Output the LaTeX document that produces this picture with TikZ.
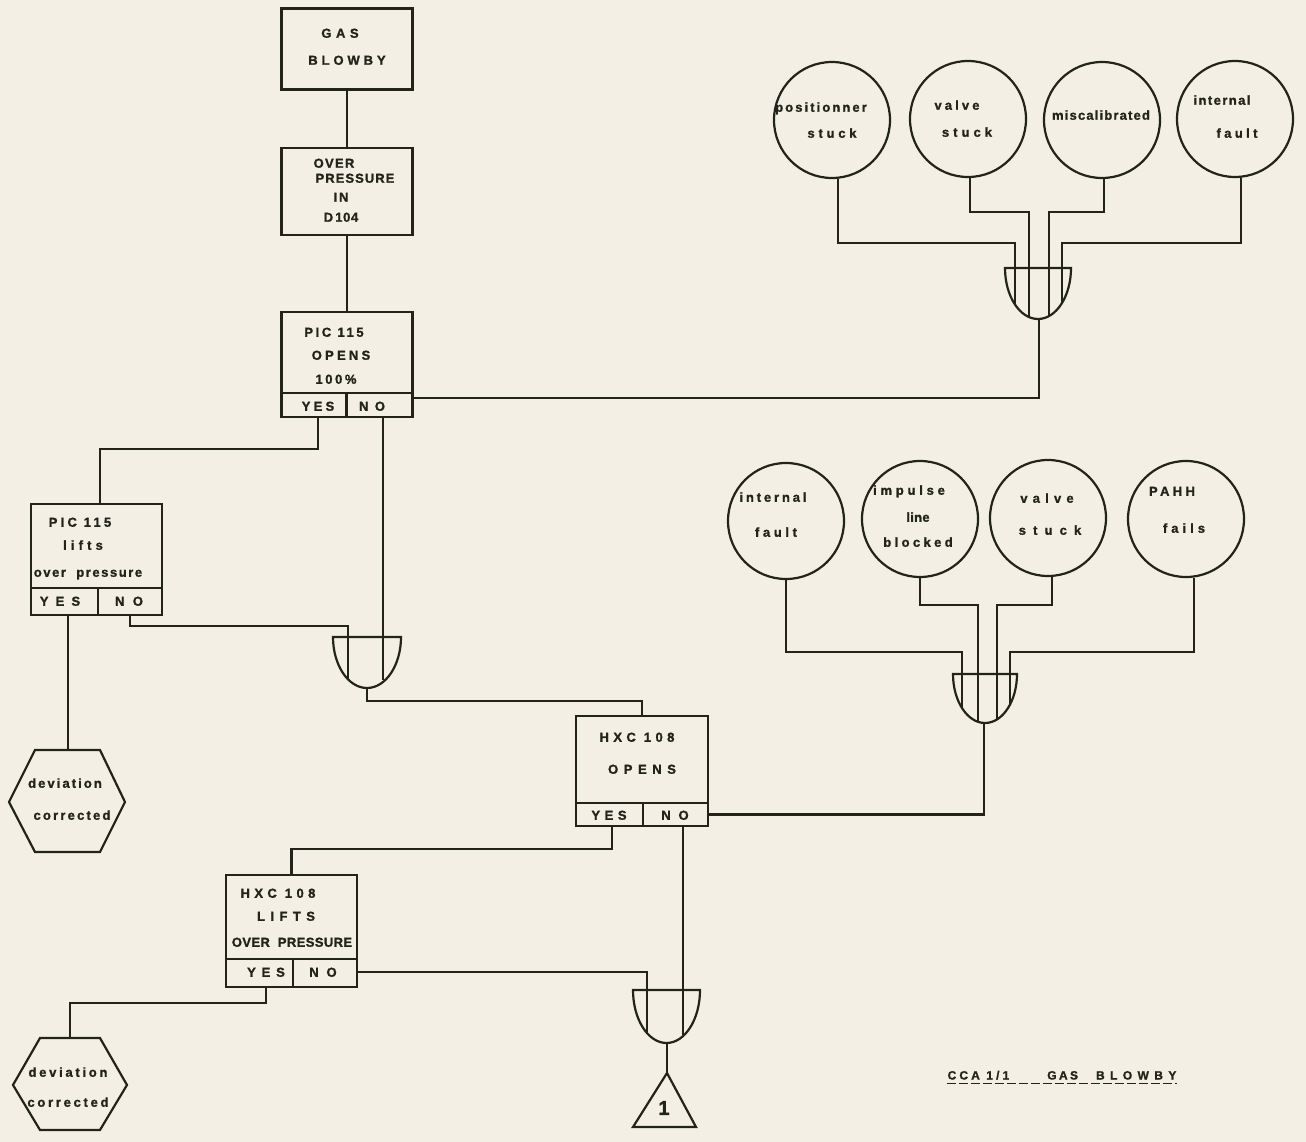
\documentclass[tikz,border=0pt]{standalone}
\usepackage{fontspec}
\setmainfont{Liberation Sans}[BoldFeatures={FakeBold=1.3}]
\usetikzlibrary{calc}
\definecolor{paper}{RGB}{243,239,229}
\definecolor{ink}{RGB}{34,36,26}
\newcommand\LS[2]{{\addfontfeature{LetterSpace=#1}#2}}
\newcommand\andgate[4]{\draw[gate] (#1-#3,#2) -- (#1+#3,#2) arc[start angle=0,end angle=-180,x radius=#3pt,y radius=#4pt] -- cycle;}
\begin{document}
\begin{tikzpicture}[x=1pt,y=-1pt,line width=2.2pt,draw=ink,text=ink,
  box/.style={draw,rectangle,inner sep=0pt},
  circ/.style={draw,circle,minimum size=116pt,inner sep=0pt},
  gate/.style={draw=ink},
  t/.style={inner sep=0pt,font=\fontsize{13}{15}\selectfont\bfseries,text height=9.5pt,text depth=0pt},
  conn/.style={draw=ink}]
\fill[paper] (0,0) rectangle (1306,1142);
\useasboundingbox (0,0) rectangle (1306,1142);

% ---------- boxes ----------
\node[box,minimum width=131pt,minimum height=81pt] (A) at (347,49) {};
\node[box,minimum width=131pt,minimum height=87pt] (B) at (347,191.5) {};
\node[box,minimum width=131pt,minimum height=81pt] (C) at (347,352.5) {};
\node[box,minimum width=65pt,minimum height=24pt] (Cyes) at (314,405) {};
\node[box,minimum width=66pt,minimum height=24pt] (Cno) at (379.5,405) {};
\node[box,minimum width=131pt,minimum height=84pt] (D) at (96.5,546) {};
\node[box,minimum width=67pt,minimum height=27pt] (Dyes) at (64.5,601.5) {};
\node[box,minimum width=64pt,minimum height=27pt] (Dno) at (130,601.5) {};
\node[box,minimum width=132pt,minimum height=87pt] (E) at (642,759.5) {};
\node[box,minimum width=67pt,minimum height=23pt] (Eyes) at (609.5,814.5) {};
\node[box,minimum width=65pt,minimum height=23pt] (Eno) at (675.5,814.5) {};
\node[box,minimum width=131pt,minimum height=84pt] (F) at (291.5,917) {};
\node[box,minimum width=67pt,minimum height=28pt] (Fyes) at (259.5,973) {};
\node[box,minimum width=64pt,minimum height=28pt] (Fno) at (325,973) {};

% ---------- box texts ----------
\node[t] (tA1) at (340,33) {\LS{35}{GAS}};
\node[t] (tA2) at (347,60) {\LS{30}{BLOWBY}};
\node[t] (tB1) at (334,163) {\LS{10}{OVER}};
\node[t] (tB2) at (355,178) {\LS{8}{PRESSURE}};
\node[t] (tB3) at (341,197) {\LS{15}{IN}};
\node[t] (tB4) at (341,217) {\LS{5}{D\,104}};
\node[t] (tC1) at (334,332) {\LS{20}{PIC 115}};
\node[t] (tC2) at (341,355) {\LS{25}{OPENS}};
\node[t] (tC3) at (336,379) {\LS{20}{100\%}};
\node[t] (tCy) at (318,406) {\LS{25}{YES}};
\node[t] (tCn) at (372,406) {\LS{50}{NO}};
\node[t] (tD1) at (80,522) {\LS{25}{PIC 115}};
\node[t] (tD2) at (83,545) {\LS{32}{lifts}};
\node[t] (tD3) at (88,572) {\LS{12}{over\ \ pressure}};
\node[t] (tDy) at (60,601) {\LS{55}{YES}};
\node[t] (tDn) at (129,601) {\LS{65}{NO}};
\node[t] (tE1) at (637,737) {\LS{34}{HXC 108}};
\node[t] (tE2) at (642,769) {\LS{43}{OPENS}};
\node[t] (tEy) at (609,815) {\LS{35}{YES}};
\node[t] (tEn) at (675,815) {\LS{60}{NO}};
\node[t] (tF1) at (278,893) {\LS{34}{HXC 108}};
\node[t] (tF2) at (286,916) {\LS{42}{LIFTS}};
\node[t] (tF3) at (292,942) {\LS{3}{OVER\ \ PRESSURE}};
\node[t] (tFy) at (266,972) {\LS{45}{YES}};
\node[t] (tFn) at (323,972) {\LS{60}{NO}};

% ---------- circles ----------
\node[circ] (pos1) at (832,120) {};
\node[circ] (val1) at (968,119) {};
\node[circ] (mis1) at (1102,120) {};
\node[circ] (int1) at (1235,119) {};
\node[circ] (int2) at (786,521) {};
\node[circ] (imp2) at (920,519) {};
\node[circ] (val2) at (1048,518) {};
\node[circ] (pahh2) at (1186,519) {};

\node[t] (t11) at (821,107) {\LS{16}{positionner}};
\node[t] (t12) at (832,133) {\LS{29}{stuck}};
\node[t] (t21) at (957,105) {\LS{24}{valve}};
\node[t] (t22) at (967,132) {\LS{31}{stuck}};
\node[t] (t31) at (1101,115) {\LS{9}{miscalibrated}};
\node[t] (t41) at (1222,100) {\LS{11}{internal}};
\node[t] (t42) at (1237,133) {\LS{26}{fault}};
\node[t] (u11) at (773,497) {\LS{22}{internal}};
\node[t] (u12) at (776,532) {\LS{28}{fault}};
\node[t] (u21) at (909,490) {\LS{29}{impulse}};
\node[t] (u22) at (918,517) {\LS{2}{line}};
\node[t] (u23) at (918,542) {\LS{26}{blocked}};
\node[t] (u31) at (1047,498) {\LS{40}{valve}};
\node[t] (u32) at (1050,530) {\LS{55}{stuck}};
\node[t] (u41) at (1172,491) {\LS{26}{PAHH}};
\node[t] (u42) at (1184,528) {\LS{31}{fails}};

% ---------- hexagons ----------
\draw (35,750) -- (100,750) -- (125,802) -- (100,852) -- (35,852) -- (9,802) -- cycle;
\coordinate (h1) at (68,750);
\node[t] (h11) at (65,783) {\LS{16}{deviation}};
\node[t] (h12) at (72,815) {\LS{17}{corrected}};
\draw (40,1038) -- (100,1038) -- (127,1085) -- (100,1130) -- (40,1130) -- (13,1085) -- cycle;
\coordinate (h2) at (70,1038);
\node[t] (h21) at (68,1072) {\LS{21}{deviation}};
\node[t] (h22) at (68,1102) {\LS{21}{corrected}};

% ---------- triangle ----------
\draw (667,1073) -- (696,1127) -- (633,1127) -- cycle;
\coordinate (tri) at (667,1073);
\node[inner sep=0pt,font=\fontsize{20}{20}\selectfont\bfseries] (tri1) at (664,1108) {1};

% ---------- gates ----------
\andgate{1038}{268}{33}{51}
\coordinate (g1o) at (1039,319);
\coordinate (g1a) at (1015,305);
\coordinate (g1b) at (1029,317);
\coordinate (g1c) at (1049,316);
\coordinate (g1d) at (1062,303);

\andgate{985}{674}{32}{49}
\coordinate (g2o) at (984,723);
\coordinate (g2a) at (962,708);
\coordinate (g2b) at (978,722);
\coordinate (g2c) at (997,719);
\coordinate (g2d) at (1010,705);

\andgate{367}{637}{34}{51}
\coordinate (gAo) at (367,688);
\coordinate (gAa) at (348,679);
\coordinate (gAb) at (383,680);

\andgate{666.5}{990}{33.5}{53}
\coordinate (gCo) at (667,1043);
\coordinate (gCa) at (647,1033);
\coordinate (gCb) at (683,1035);

% ---------- connectors ----------
\draw (A.south) -- (B.north);
\draw (B.south) -- (C.north);
\draw ([xshift=4pt]Cyes.south) -- ++(0,31) -| ([xshift=3.5pt]D.north);
\draw ([xshift=3.5pt]Cno.south) -- (gAb);
\draw ([yshift=7pt]Cno.east) -| (g1o);
\draw ([xshift=3.5pt]Dyes.south) -- (h1);
\draw (Dno.south) -- ++(0,10) -| (gAa);
\draw (gAo) -- ++(0,13) -| (E.north);
\draw ([xshift=2.5pt]Eyes.south) -- ++(0,22) -| (F.north);
\draw ([xshift=7.5pt]Eno.south) -- (gCb);
\draw (Eno.east) -| (g2o);
\draw ([xshift=6.5pt]Fyes.south) -- ++(0,15) -| (h2);
\draw ([yshift=1pt]Fno.east) -| (gCa);
\draw (gCo) -- (tri);

\draw (pos1.-84) |- (1015,243) -- (g1a);
\draw (val1.-88) |- (1029,212) -- (g1b);
\draw (mis1.-88) |- (1049,212) -- (g1c);
\draw (int1.-84) |- (1062,243) -- (g1d);

\draw (int2.south) |- (962,652) -- (g2a);
\draw (imp2.south) |- (978,605) -- (g2b);
\draw (val2.-86) |- (997,605) -- (g2c);
\draw (pahh2.-82) |- (1010,652) -- (g2d);

% ---------- footer ----------
\node[inner sep=0pt,font=\fontsize{12}{14}\selectfont\bfseries,text height=9pt,text depth=0pt] (foot) at (1062,1075)
  {\LS{26}{CCA 1/1}\hspace{38pt}\LS{20}{GAS}\hspace{18pt}\LS{45}{BLOWBY}};
\draw[line width=1.2pt,dash pattern=on 9pt off 3pt] ([yshift=-3pt]foot.south west) -- ([yshift=-3pt]foot.south east);
\end{tikzpicture}
\end{document}
